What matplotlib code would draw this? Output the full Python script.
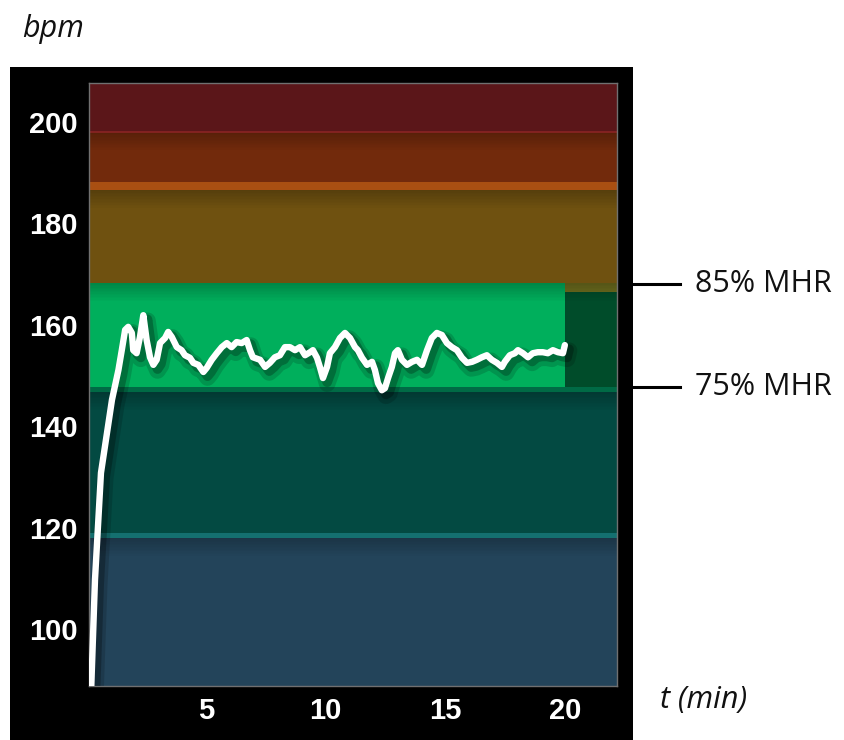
import numpy as np
import matplotlib
matplotlib.use("Agg")
import matplotlib.pyplot as plt
import matplotlib.patheffects as pe
import matplotlib.transforms as mtransforms
from matplotlib.patches import Rectangle
from matplotlib.lines import Line2D

# heart rate trace
t_min = [0.2, 0.36, 0.61, 1.07, 1.34, 1.48, 1.62, 1.75, 1.90, 1.96, 2.10, 2.24, 2.38,
         2.52, 2.66, 2.80, 2.94, 3.08, 3.29, 3.42, 3.57, 3.78, 3.98, 4.12, 4.33,
         4.47, 4.68, 4.89, 5.03, 5.24, 5.45, 5.66, 5.87, 6.07, 6.28, 6.49, 6.70,
         6.84, 6.96, 7.26, 7.47, 7.67, 7.88, 8.09, 8.30, 8.51, 8.72, 8.93, 9.14,
         9.35, 9.47, 9.64, 9.76, 9.89, 10.06, 10.18, 10.39, 10.60, 10.81, 11.02,
         11.23, 11.35, 11.52, 11.73, 11.94, 12.06, 12.19, 12.35, 12.48, 12.61,
         12.77, 12.90, 13.02, 13.19, 13.40, 13.61, 13.82, 14.03, 14.24, 14.44,
         14.65, 14.86, 15.07, 15.28, 15.49, 15.70, 15.91, 16.12, 16.32, 16.53,
         16.74, 16.95, 17.16, 17.37, 17.49, 17.70, 17.91, 18.04, 18.25, 18.46,
         18.66, 18.87, 19.08, 19.29, 19.50, 19.71, 19.92, 20.00]
hr_bpm = [88.0, 109.7, 130.8, 145.2, 151.1, 155.0, 159.0, 159.6, 158.4, 155.0, 154.4,
          157.6, 161.9, 157.0, 153.6, 152.1, 153.1, 156.4, 157.4, 158.6, 157.6,
          155.6, 155.0, 154.0, 153.5, 152.5, 152.1, 150.7, 151.5, 153.1, 154.4,
          155.6, 156.4, 155.6, 156.6, 156.4, 157.0, 155.0, 153.6, 153.1, 151.7,
          152.5, 153.6, 154.0, 155.6, 155.6, 155.0, 155.6, 154.0, 154.6, 155.0,
          153.5, 151.7, 149.5, 151.7, 154.4, 155.6, 157.4, 158.4, 157.4, 155.6,
          155.0, 153.5, 152.1, 152.7, 151.1, 148.5, 147.1, 147.5, 149.5, 151.7,
          154.4, 155.0, 153.1, 152.1, 152.7, 153.1, 152.1, 155.0, 157.4, 158.4,
          158.0, 156.4, 155.6, 155.0, 153.5, 152.5, 152.7, 153.1, 153.6, 154.0,
          153.1, 152.5, 151.7, 152.7, 154.0, 154.4, 155.0, 154.4, 153.6, 154.4,
          154.6, 154.6, 154.4, 155.0, 154.6, 154.4, 156.0]

# zone bands (bpm): lower, upper
zone_lo = [80.0, 118.0, 118.9, 146.7, 147.7, 168.2, 186.6, 188.2, 198.0]
zone_hi = [118.0, 118.9, 146.7, 147.7, 168.2, 186.6, 188.2, 198.0, 215.0]
zone_col = ['#23445a', '#147070', '#034a42', '#006a45', '#00af5c',
            '#6f5110', '#a94f12', '#722a0c', '#5b1619']
session_end = 20.0
mhr_levels = [168.0, 147.7]
mhr_labels = ['85% MHR', '75% MHR']

x_ticks = [5, 10, 15, 20]
y_ticks = [100, 120, 140, 160, 180, 200]

W, H = 844, 740
fig = plt.figure(figsize=(W / 100, H / 100), dpi=100)
fig.patch.set_facecolor('white')
fig.add_artist(Rectangle((10 / W, 0), 623 / W, 673 / H, transform=fig.transFigure,
                         facecolor='black', edgecolor='none', zorder=0))

ax = fig.add_axes([89 / W, 54 / H, 528 / W, 603 / H])
ax.set_xlim(0.11, 22.18)
ax.set_ylim(88.76, 207.7)
ax.set_facecolor('black')

xmin, xmax = ax.get_xlim()
for lo, hi, c in zip(zone_lo, zone_hi, zone_col):
    if c == '#00af5c':
        ax.fill_between([xmin, session_end], lo, hi, color=c, lw=0, zorder=1)
        # zone after the session ended
        ax.fill_between([session_end, xmax], lo, 166.5, color='#004c2a', lw=0, zorder=1)
        ax.fill_between([session_end, xmax], 166.5, hi, color='#6f6f1e', lw=0, zorder=1)
    else:
        ax.axhspan(lo, hi, color=c, lw=0, zorder=1)
    # soft shade at the top of the wider bands
    if hi - lo > 5 and hi < 210:
        n = 12
        for k in range(n):
            ax.axhspan(hi - 3.5 * (k + 1) / n, hi - 3.5 * k / n, color='black',
                       alpha=0.22 * (1 - k / n), lw=0, zorder=1.5)
ax.axhline(198.0, color='#8a2424', lw=1.2, zorder=1.6)

ax.plot(t_min, hr_bpm, color='white', lw=4.6, solid_joinstyle='round',
        solid_capstyle='round', zorder=5,
        path_effects=[pe.SimpleLineShadow(offset=(3, -4), shadow_color='black', alpha=0.15, linewidth=12),
                      pe.SimpleLineShadow(offset=(3, -3), shadow_color='black', alpha=0.25, linewidth=7),
                      pe.Normal()])

for s in ax.spines.values():
    s.set_color('#707070')
    s.set_linewidth(1)

ax.set_xticks(x_ticks)
ax.set_yticks(y_ticks)
ax.tick_params(length=0, colors='white', labelsize=21, pad=8)
for lab in ax.get_xticklabels() + ax.get_yticklabels():
    lab.set_fontfamily('Liberation Sans')
    lab.set_fontweight('bold')

blend = mtransforms.blended_transform_factory(fig.transFigure, ax.transData)
for lvl, txt in zip(mhr_levels, mhr_labels):
    fig.add_artist(Line2D([633 / W, 680 / W], [lvl, lvl], transform=blend,
                          color='black', lw=2.2))
    fig.text(695 / W, lvl, txt, transform=blend, va='center', ha='left',
             fontsize=22, family='Open Sans', color='#111111')

fig.text(22 / W, 1 - 37 / H, 'bpm', style='italic', fontsize=22, family='Open Sans',
         va='baseline', color='#111111')
fig.text(660 / W, 1 - 700 / H, 't (min)', style='italic', fontsize=22, family='Open Sans',
         va='center', color='#111111')

fig.savefig('out.png', dpi=100, facecolor='white')
